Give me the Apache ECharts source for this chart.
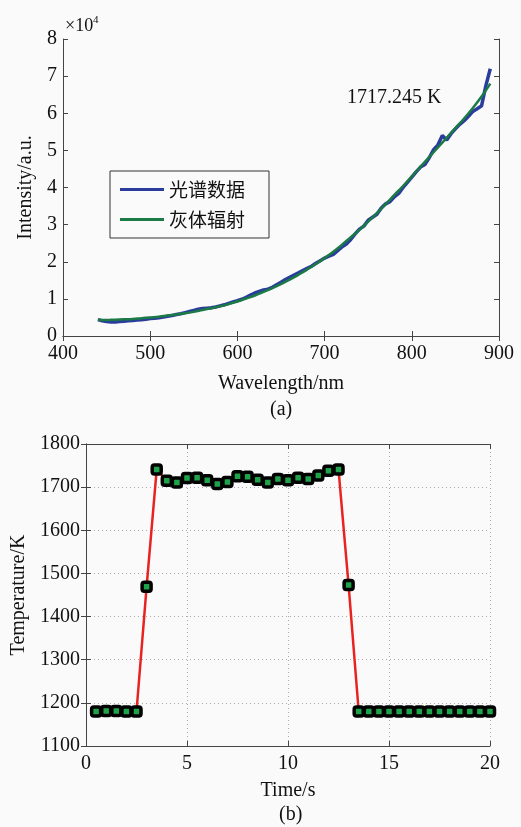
<!DOCTYPE html>
<html>
<head>
<meta charset="utf-8">
<script src="https://cdn.jsdelivr.net/npm/echarts@6/dist/echarts.min.js"></script>
<style>
  html, body { margin: 0; padding: 0; background: #fafafa; }
  #chart { width: 521px; height: 827px; }
</style>
</head>
<body>
<div id="chart"></div>
<script>
// (a) 光谱数据 (x10^4)
const specWave = [440,445,450,455,460,465,470,475,480,485,490,495,500,505,510,515,520,525,530,535,
  540,545,550,555,560,565,570,575,580,585,590,595,600,605,610,615,620,625,630,635,
  640,645,650,655,660,665,670,675,680,685,690,695,700,705,710,715,720,725,730,735,
  740,745,750,755,760,765,770,775,780,785,790,795,800,805,810,815,820,825,830,835,
  840,845,850,855,860,865,870,875,880,885,890];
const specVal = [0.44,0.41,0.39,0.38,0.38,0.39,0.40,0.41,0.42,0.43,0.44,0.45,0.47,0.48,0.49,0.51,0.53,0.55,0.58,0.60,
  0.63,0.66,0.69,0.72,0.74,0.75,0.76,0.78,0.81,0.84,0.88,0.92,0.95,0.99,1.04,1.10,1.16,1.20,1.24,1.26,
  1.31,1.38,1.45,1.52,1.58,1.64,1.70,1.76,1.82,1.88,1.96,2.03,2.10,2.15,2.20,2.30,2.40,2.48,2.60,2.75,
  2.88,2.96,3.12,3.20,3.28,3.45,3.56,3.62,3.75,3.84,4.00,4.14,4.28,4.42,4.55,4.62,4.80,5.02,5.15,5.40,
  5.28,5.45,5.58,5.70,5.80,5.92,6.05,6.12,6.20,6.75,7.20];
// (a) 灰体辐射
const fitWave = [440,450,460,470,480,490,500,510,520,530,540,550,560,570,580,590,600,610,620,630,
  640,650,660,670,680,690,700,710,720,730,740,750,760,770,780,790,800,810,820,830,
  840,850,860,870,880,890];
const fitVal = [0.43,0.43,0.44,0.45,0.46,0.48,0.50,0.52,0.55,0.58,0.61,0.65,0.70,0.75,0.80,0.86,0.93,1.01,1.09,1.19,
  1.29,1.40,1.52,1.65,1.79,1.94,2.10,2.27,2.46,2.66,2.86,3.08,3.31,3.55,3.80,4.04,4.30,4.56,4.82,5.08,
  5.34,5.60,5.86,6.14,6.45,6.80];
// (b) temperature vs time
const timeS = [0.5,1,1.5,2,2.5,3,3.5,4,4.5,5,5.5,6,6.5,7,7.5,8,8.5,9,9.5,10,
  10.5,11,11.5,12,12.5,13,13.5,14,14.5,15,15.5,16,16.5,17,17.5,18,18.5,19,19.5,20];
const tempK = [1180,1181,1181,1180,1180,1469,1741,1715,1711,1721,1722,1716,1707,1712,1725,1724,1717,1711,1719,1716,
  1722,1719,1727,1738,1741,1473,1180,1180,1180,1180,1180,1180,1180,1180,1180,1180,1180,1180,1180,1180];

const serif = '"Liberation Serif", "Times New Roman", serif';
const cjk = 'Noto Sans CJK SC';
const axisCol = '#444';

let myChart = echarts.init(document.getElementById('chart'));

function boxAxis(gridIndex, pos, opts) {
  // 镜像轴，只画内侧刻度
  return Object.assign({
    gridIndex: gridIndex,
    position: pos,
    type: 'value',
    axisLine: { show: true, lineStyle: { color: axisCol, width: 1 } },
    axisTick: { show: true, inside: true, length: 5, lineStyle: { color: axisCol } },
    axisLabel: { show: false },
    splitLine: { show: false }
  }, opts);
}

const labelStyle = { color: '#111', fontFamily: serif, fontSize: 20 };
const plain = v => String(v);

let option = {
  backgroundColor: '#fafafa',
  animation: false,
  grid: [
    { left: 63, right: 22, top: 39, bottom: 491 },
    { left: 86, right: 31, top: 444, bottom: 81 }
  ],
  legend: {
    data: ['光谱数据', '灰体辐射'],
    orient: 'vertical',
    left: 110,
    top: 171,
    icon: 'rect',
    itemWidth: 44,
    itemHeight: 3,
    itemGap: 11,
    itemTextGap: 9,
    padding: [9, 24, 9, 10],
    borderColor: '#333',
    borderWidth: 1,
    backgroundColor: '#fafafa',
    textStyle: { fontFamily: cjk, fontSize: 19, color: '#111' }
  },
  xAxis: [
    boxAxis(0, 'bottom', {
      min: 400, max: 900, interval: 100,
      axisLabel: Object.assign({ show: true, margin: 8, formatter: plain }, labelStyle),
      name: 'Wavelength/nm', nameLocation: 'middle', nameGap: 38,
      nameTextStyle: labelStyle
    }),
    boxAxis(0, 'top', { min: 400, max: 900, interval: 100 }),
    boxAxis(1, 'bottom', {
      min: 0, max: 20, interval: 5,
      axisLabel: Object.assign({ show: true, margin: 8, formatter: plain }, labelStyle),
      splitLine: { show: true, lineStyle: { color: '#aaa', type: [1, 3], width: 1 } },
      name: 'Time/s', nameLocation: 'middle', nameGap: 35,
      nameTextStyle: labelStyle
    }),
    boxAxis(1, 'top', { min: 0, max: 20, interval: 5 })
  ],
  yAxis: [
    boxAxis(0, 'left', {
      min: 0, max: 8, interval: 1,
      axisLabel: Object.assign({ show: true, margin: 6, formatter: plain }, labelStyle),
      name: 'Intensity/a.u.', nameLocation: 'middle', nameGap: 20, nameRotate: 90,
      nameTextStyle: labelStyle
    }),
    boxAxis(0, 'right', { min: 0, max: 8, interval: 1 }),
    boxAxis(1, 'left', {
      min: 1100, max: 1800, interval: 100,
      axisLabel: Object.assign({ show: true, margin: 6, formatter: plain }, labelStyle),
      splitLine: { show: true, lineStyle: { color: '#aaa', type: [1, 3], width: 1 } },
      name: 'Temperature/K', nameLocation: 'middle', nameGap: 48, nameRotate: 90,
      nameTextStyle: labelStyle
    }),
    boxAxis(1, 'right', { min: 1100, max: 1800, interval: 100 })
  ],
  graphic: [
    {
      type: 'text', left: 65, top: 17,
      style: { text: '×10', fill: '#111', fontSize: 18, fontFamily: serif }
    },
    {
      type: 'text', left: 93, top: 15,
      style: { text: '4', fill: '#111', fontSize: 11, fontFamily: serif }
    },
    {
      type: 'text', left: 347, top: 88,
      style: { text: '1717.245 K', fill: '#111', fontSize: 20, fontFamily: serif }
    },
    {
      type: 'text', left: 270, top: 400,
      style: { text: '(a)', fill: '#111', fontSize: 20, fontFamily: serif }
    },
    {
      type: 'text', left: 279, top: 805,
      style: { text: '(b)', fill: '#111', fontSize: 20, fontFamily: serif }
    }
  ],
  series: [
    {
      name: '光谱数据',
      type: 'line',
      xAxisIndex: 0, yAxisIndex: 0,
      showSymbol: false,
      lineStyle: { color: '#2a3c9c', width: 3.5 },
      itemStyle: { color: '#2a3c9c' },
      data: specWave.map((w, i) => [w, specVal[i]])
    },
    {
      name: '灰体辐射',
      type: 'line',
      xAxisIndex: 0, yAxisIndex: 0,
      showSymbol: false,
      smooth: true,
      lineStyle: { color: '#1b7a45', width: 2.5 },
      itemStyle: { color: '#1b7a45' },
      data: fitWave.map((w, i) => [w, fitVal[i]])
    },
    {
      name: 'Temperature',
      type: 'line',
      xAxisIndex: 2, yAxisIndex: 2,
      symbol: 'roundRect',
      symbolSize: 9,
      lineStyle: { color: '#e8231f', width: 2.5 },
      itemStyle: { color: '#1fa34a', borderColor: '#000', borderWidth: 3.5 },
      data: timeS.map((t, i) => [t, tempK[i]])
    }
  ]
};
option && myChart.setOption(option);
</script>
</body>
</html>
